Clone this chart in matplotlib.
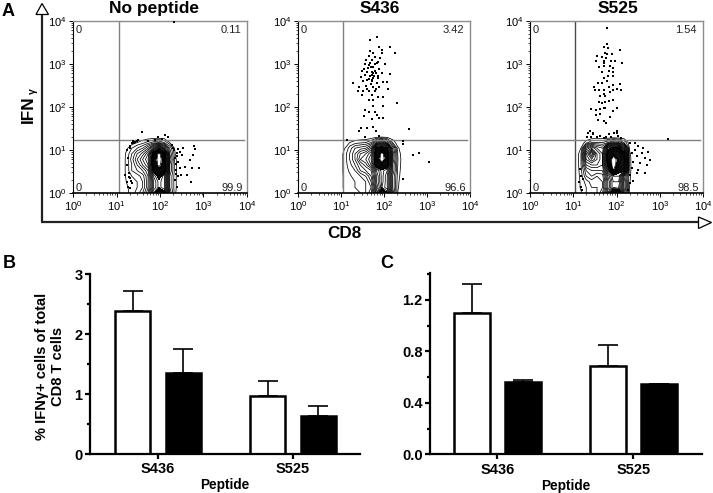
import matplotlib
matplotlib.use('Agg')
import matplotlib.pyplot as plt
from matplotlib.patches import Polygon
from matplotlib.ticker import FixedLocator, NullFormatter
import numpy as np

plt.rcParams['font.family'] = ['Liberation Sans', 'DejaVu Sans']
plt.rcParams['mathtext.fontset'] = 'custom'
plt.rcParams['mathtext.rm'] = 'Liberation Sans'
plt.rcParams['mathtext.default'] = 'regular'

W = 713
H = 493

peptides = ['S436', 'S525']
flow_titles = ['No peptide', 'S436', 'S525']
flow_title_x = [154, 380, 618]
flow_labels = [['0', '0.11', '0', '99.9'], ['0', '3.42', '0', '96.6'], ['0', '1.54', '0', '98.5']]

# panel B, C bars
b_white = [2.39, 0.97]
b_white_err = [0.33, 0.25]
b_black = [1.36, 0.64]
b_black_err = [0.39, 0.155]
c_white = [1.096, 0.687]
c_white_err = [0.226, 0.163]
c_black = [0.565, 0.544]
c_black_err = [0.01, 0.006]

gate_x = [1.05, 1.04, 1.04]
gate_y = 1.24

# density, log10 grid, bottom row first
grid_y = [0, .13, .26, .39, .52, .65, .78, .91, 1.04, 1.17, 1.3]
grid_x1 = [1.1, 1.225, 1.35, 1.475, 1.6, 1.725, 1.85, 1.975, 2.1, 2.225, 2.35, 2.475, 2.6]
density1 = [
    [0, 0.6, 1.5, 2.5, 4, 7, 14, 20, 16, 5, 1.1, 0, 0],
    [0, 0.8, 1.5, 2, 3, 6, 12, 14.5, 13, 4, 1.2, 0, 0],
    [0, 1.0, 1.5, 2, 3, 6, 12, 14.5, 13, 4, 1.2, 0, 0],
    [0, 1.2, 2, 2.5, 3.5, 6, 13, 16, 13, 4, 1.2, 0, 0],
    [0, 1.3, 3, 4, 5, 7, 16, 19, 17, 5, 1.3, 0, 0],
    [0, 1.3, 3, 5, 7, 9, 18, 22, 18, 5, 1.3, 0, 0],
    [0, 1.3, 3.5, 6, 8, 10, 18, 23, 18, 6, 1.2, 0, 0],
    [0, 1.2, 3, 5, 6.5, 9, 17, 22, 17, 5, 1.0, 0, 0],
    [0, 0.7, 2, 3, 4, 6, 10, 14, 9, 4, 0.5, 0, 0],
    [0, 0, 0.3, 1.0, 1.6, 2.5, 3.5, 4, 3, 1.0, 0, 0, 0],
    [0, 0, 0, 0, 0, 0, 0, 0, 0, 0, 0, 0, 0],
]
grid_x2 = [0.95, 1.075, 1.2, 1.325, 1.45, 1.575, 1.7, 1.825, 1.95, 2.075, 2.2, 2.325, 2.45]
density2 = [
    [0, 1.1, 1.6, 1.8, 2, 3, 5, 12, 20, 15, 6, 0.9, 0],
    [0, 1.3, 1.5, 2, 2.5, 3, 4, 10, 14, 12, 5, 1.1, 0],
    [0, 1.3, 1.6, 2, 2.5, 3, 5, 11, 14.5, 12, 5, 1.2, 0],
    [0, 1.3, 1.8, 2.5, 3, 4, 6, 11, 14.5, 12, 5, 1.4, 0],
    [0, 1.4, 2.2, 3, 5, 6, 7, 12, 14.5, 13, 6, 1.6, 0],
    [0, 1.4, 2.6, 4, 6, 7.5, 10, 17, 19, 17, 6, 1.8, 0],
    [0, 1.4, 3, 5, 8, 9, 11, 18, 23, 18, 7, 2, 0],
    [0, 1.4, 3, 5, 7, 8, 10, 18, 22, 18, 7, 1.7, 0],
    [0, 0.8, 2.5, 4, 4.5, 5, 7, 16, 17, 15, 6, 1.2, 0],
    [0, 0, 1.0, 1.5, 1.8, 2, 3, 6, 8, 5, 2, 0, 0],
    [0, 0, 0, 0, 0, 0, 0.2, 0.6, 0.9, 0.6, 0, 0, 0],
]
grid_x3 = [1.05, 1.175, 1.3, 1.425, 1.55, 1.675, 1.8, 1.925, 2.05, 2.175, 2.3, 2.425, 2.55]
density3 = [
    [0, 0.8, 2, 2.5, 3, 5, 11, 19, 18, 7, 0.8, 0, 0],
    [0, 1.2, 2, 3, 3, 4, 9, 13, 12, 6, 1, 0, 0],
    [0, 1.2, 2.5, 3.5, 3.5, 4, 9, 13, 13, 6, 1.1, 0, 0],
    [0, 1.4, 4, 5, 4, 4.5, 10, 14, 14, 7, 1.2, 0, 0],
    [0, 1.6, 5, 6, 6, 6, 13, 21, 16, 15, 1.3, 0, 0],
    [0, 1.8, 7, 8, 8, 7, 16, 23, 18, 17, 1.3, 0, 0],
    [0, 1.8, 9, 11, 9, 7, 17, 23, 19, 17, 1.3, 0, 0],
    [0, 1.8, 10, 14, 9, 7, 17, 19, 19, 16, 1.2, 0, 0],
    [0, 1.0, 7, 9, 7, 6, 14, 16, 16, 10, 0.8, 0, 0],
    [0, 0.3, 1.5, 3, 3, 3, 4, 6, 5, 3, 0.3, 0, 0],
    [0, 0, 0, 0, 0, 0, 0, 0, 0, 0, 0, 0, 0],
]

# single events outside the contours, log10 CD8 / log10 IFNg
dots1 = [(1.59, 1.41), (2.11, 1.35), (2.19, 1.29), (1.96, 1.29), (1.5, 1.23), (1.39, 1.21), (1.31, 1.1), (1.43, 1.19),
         (1.35, 1.16), (1.73, 1.21), (1.89, 1.23), (2.04, 1.26), (2.27, 1.12), (2.33, 1.0), (2.42, 1.02), (2.54, 1.04),
         (2.79, 1.08), (2.8, 1.02), (2.38, .92), (2.5, .88), (2.34, .81), (2.77, .88), (2.69, .77), (2.42, .73),
         (2.57, .61), (2.46, .57), (2.73, .57), (2.36, .53), (2.48, .42), (2.61, .42), (2.34, .3), (2.71, .26),
         (2.38, .15), (1.26, .81), (1.23, .65), (1.2, .42), (1.29, .46), (1.31, .34), (1.23, .26), (1.35, .23),
         (1.26, .15), (1.31, .11), (2.9, .58), (2.32, 3.97), (2.4, .85), (2.45, .95), (2.37, .68), (2.41, .4),
         (1.28, .38), (1.33, .28), (1.25, 1.0), (1.4, 1.15), (1.47, 1.2), (1.3, 1.05), (2.3, 1.05), (2.36, .45)]
dots2 = [(1.84, 3.62), (1.67, 3.56), (1.89, 3.40), (2.14, 3.39), (2.25, 3.26), (1.96, 3.32), (1.95, 3.25), (1.67, 3.29),
         (1.75, 3.26), (1.64, 3.17), (1.79, 3.15), (1.91, 3.13), (1.58, 3.09), (1.71, 3.08), (1.83, 3.01), (2.02, 3.0),
         (1.64, 2.98), (1.75, 2.92), (1.53, 2.88), (1.89, 2.88), (1.48, 2.84), (1.61, 2.82), (1.71, 2.80), (1.81, 2.78),
         (1.95, 2.78), (2.14, 2.77), (1.56, 2.74), (1.46, 2.69), (1.67, 2.71), (1.75, 2.67), (1.87, 2.67), (1.60, 2.63),
         (1.29, 2.55), (1.52, 2.59), (1.71, 2.59), (1.84, 2.55), (1.97, 2.57), (2.08, 2.57), (1.43, 2.47), (1.58, 2.49),
         (1.75, 2.47), (1.89, 2.46), (2.10, 2.41), (1.40, 2.36), (1.52, 2.37), (1.66, 2.36), (1.79, 2.36), (1.48, 2.28),
         (1.71, 2.28), (1.87, 2.24), (1.98, 2.24), (1.64, 2.15), (1.75, 2.16), (2.31, 2.10), (1.75, 2.01), (1.97, 2.01),
         (1.56, 1.93), (1.66, 1.89), (1.79, 1.89), (1.84, 1.81), (1.53, 1.78), (1.71, 1.71), (1.89, 1.74), (1.98, 1.74),
         (1.46, 1.52), (1.60, 1.50), (1.75, 1.54), (1.81, 1.43), (1.43, 1.43), (2.59, 1.49), (1.72, 2.74), (1.76, 2.72),
         (1.78, 2.84), (1.70, 2.92), (1.78, 3.0), (1.68, 3.02), (1.73, 2.62), (1.66, 2.64), (1.62, 2.9), (1.85, 2.72),
         (1.74, 2.78), (1.69, 2.52), (1.81, 2.42), (1.60, 2.42), (1.55, 3.0), (1.86, 3.05), (2.67, 0.88), (2.81, 0.93),
         (3.05, 0.72), (2.44, 1.21), (2.45, 1.14), (2.44, 0.33), (1.55, 1.31), (1.88, 1.32), (1.14, 1.22)]
dots3 = [(1.77, 3.83), (1.79, 3.46), (1.70, 3.38), (1.81, 3.36), (2.08, 3.32), (1.73, 3.26), (1.79, 3.23), (1.89, 3.23),
         (1.56, 3.19), (1.66, 3.15), (1.76, 3.13), (1.53, 3.07), (1.72, 3.07), (1.87, 3.07), (1.96, 3.07), (2.12, 3.01),
         (1.70, 3.01), (1.59, 2.92), (1.72, 2.94), (1.85, 2.94), (1.93, 2.9), (1.83, 2.84), (1.66, 2.8), (1.93, 2.82),
         (1.81, 2.72), (1.71, 2.66), (1.91, 2.72), (1.79, 2.61), (1.58, 2.55), (1.66, 2.55), (2.07, 2.53), (1.91, 2.51),
         (1.48, 2.47), (1.83, 2.45), (2.0, 2.41), (2.11, 2.39), (1.60, 2.39), (1.71, 2.39), (1.93, 2.39), (1.50, 2.38),
         (1.85, 2.35), (1.71, 2.30), (1.63, 2.25), (1.73, 2.25), (1.60, 2.12), (1.66, 2.10), (1.74, 2.12), (1.83, 2.14),
         (1.93, 2.16), (1.70, 1.97), (1.40, 1.94), (1.52, 1.93), (1.63, 1.94), (1.73, 1.97), (2.0, 1.97), (1.91, 1.91),
         (1.52, 1.81), (1.63, 1.83), (1.86, 1.77), (1.58, 1.69), (1.70, 1.68), (1.76, 1.63), (1.33, 1.39), (1.45, 1.37),
         (2.02, 1.40), (1.38, 1.44), (1.46, 1.40), (1.55, 1.30), (1.62, 1.33), (1.7, 1.28), (1.75, 1.31), (1.82, 1.36),
         (1.88, 1.29), (1.94, 1.40), (2.0, 1.45), (2.04, 1.32), (2.1, 1.28), (1.32, 1.3), (1.42, 1.3), (3.19, 1.25),
         (2.31, 1.15), (2.43, 1.15), (2.5, 1.08), (2.62, 1.04), (2.43, 1.0), (2.73, .96), (2.35, .92), (2.58, .92),
         (2.47, .85), (2.66, .81), (2.77, .77), (2.39, .73), (2.54, .69), (2.7, .65), (2.35, .57), (2.5, .53),
         (2.31, .42), (2.47, .46), (2.66, .46), (2.31, .23), (2.39, .27), (2.27, .07), (1.15, .55), (1.17, .4),
         (1.14, .25), (1.18, .15), (1.2, .08), (1.22, .32)]

flow_boxes = [(73, 20.7, 247, 193), (298, 20.7, 470, 193), (530, 20.7, 703, 193)]
grids = [(grid_x1, density1), (grid_x2, density2), (grid_x3, density3)]
dots = [dots1, dots2, dots3]
levels = list(range(1, 22))


def px_axes(fig, left, top, right, bottom):
    return fig.add_axes([left / W, 1 - bottom / H, (right - left) / W, (bottom - top) / H])


fig = plt.figure(figsize=(W / 100, H / 100), dpi=100)

# overlay for the big arrows and panel letters
bg = fig.add_axes([0, 0, 1, 1])
bg.set_xlim(0, W)
bg.set_ylim(H, 0)
bg.axis('off')
bg.plot([41.5, 41.5], [222, 15], color='#222222', lw=1.6, solid_capstyle='butt')
bg.plot([41, 698], [222, 222], color='#222222', lw=1.6, solid_capstyle='butt')
bg.add_patch(Polygon([(42, 3.5), (36, 14.5), (48.5, 14.5)], fc='white', ec='black', lw=0.9))
bg.add_patch(Polygon([(698.5, 217), (711.5, 222.5), (698.5, 228.5)], fc='white', ec='black', lw=0.9))
for letter, x, y in [('A', 8, 11), ('B', 9, 263), ('C', 387, 263)]:
    bg.text(x, y, letter, fontsize=13, fontweight='bold', ha='center', va='center')
bg.text(344, 234, 'CD8', fontsize=12.3, fontweight='bold', ha='center', va='center')
bg.text(28.5, 109, 'IFN', fontsize=12.3, fontweight='bold', rotation=90, ha='center', va='center')
bg.text(33, 91.5, 'γ', fontsize=7.5, fontweight='bold', rotation=90, ha='center', va='center')

for i in range(3):
    ax = px_axes(fig, *flow_boxes[i])
    ax.set_xscale('log')
    ax.set_yscale('log')
    ax.set_xlim(1, 1e4)
    ax.set_ylim(1, 1e4)
    gx, dens = grids[i]
    gx_vals = 10 ** np.array(gx)
    gy_vals = 10 ** np.array(grid_y)
    ax.contourf(gx_vals, gy_vals, np.array(dens), levels=[15, 20], colors='#111111')
    ax.contour(gx_vals, gy_vals, np.array(dens), levels=levels, colors='black', linewidths=0.55)
    pts = np.array(dots[i])
    ax.scatter(10 ** pts[:, 0], 10 ** pts[:, 1], s=1.4, c='black', marker='s', linewidths=0, zorder=3)
    gate_color = '#4a4a4a' if i == 2 else '#808080'
    ax.axvline(10 ** gate_x[i], color=gate_color, lw=1.0)
    ax.plot([1, 10 ** 3.94], [10 ** gate_y, 10 ** gate_y], color='#808080', lw=1.0)
    for side in ['top', 'right']:
        ax.spines[side].set_color('#8c8c8c')
        ax.spines[side].set_linewidth(1.0)
    ax.spines['left'].set_linewidth(0.8)
    ax.spines['bottom'].set_linewidth(1.2)
    minors = [m * 10 ** d for d in range(4) for m in range(2, 10)]
    for axis in [ax.xaxis, ax.yaxis]:
        axis.set_minor_locator(FixedLocator(minors))
        axis.set_minor_formatter(NullFormatter())
    ax.tick_params(which='major', length=3, width=0.7, labelsize=8, pad=1.5)
    ax.tick_params(which='minor', length=1.5, width=0.5)
    q = flow_labels[i]
    ax.text(0.015, 0.945, q[0], transform=ax.transAxes, fontsize=8, va='center', ha='left', color='#222222')
    ax.text(0.965, 0.945, q[1], transform=ax.transAxes, fontsize=8, va='center', ha='right', color='#222222')
    ax.text(0.015, 0.03, q[2], transform=ax.transAxes, fontsize=8, va='center', ha='left', color='#222222')
    ax.text(0.975, 0.03, q[3], transform=ax.transAxes, fontsize=8, va='center', ha='right', color='#222222')
    bg.text(flow_title_x[i], 8.5, flow_titles[i], fontsize=12.5, fontweight='bold', ha='center', va='center')


def bars(ax, white, white_err, black, black_err):
    centers = np.array([0, 1])
    off = 0.187
    for vals, errs, xs, color in [(white, white_err, centers - off, 'white'), (black, black_err, centers + off, 'black')]:
        ax.errorbar(xs, vals, yerr=[np.zeros(2), errs], fmt='none', ecolor='black', elinewidth=1.2,
                    capsize=7, capthick=1.2, zorder=1)
        ax.bar(xs, vals, width=0.26, color=color, edgecolor='black', linewidth=1.8, zorder=2)
    ax.set_xticks(centers)
    ax.set_xticklabels(peptides, fontsize=10.5, fontweight='bold')
    ax.set_xlabel('Peptide', fontsize=9.8, fontweight='bold', labelpad=1.5)
    for side in ['top', 'right']:
        ax.spines[side].set_visible(False)
    for side in ['left', 'bottom']:
        ax.spines[side].set_linewidth(1.6)
    ax.tick_params(which='major', length=3.5, width=1.6, labelsize=10.5, pad=2)
    ax.tick_params(axis='y', which='minor', length=2.5, width=1.6)
    ax.tick_params(axis='x', length=3.5, width=1.6, pad=2.5)
    for lab in ax.get_yticklabels():
        lab.set_fontweight('bold')


# panel B
ax_b = px_axes(fig, 90, 274.3, 360, 454)
ax_b.set_xlim(-0.504, 1.496)
ax_b.set_ylim(0, 3)
ax_b.set_yticks([0, 1, 2, 3])
ax_b.set_yticks([0.5, 1.5, 2.5], minor=True)
bars(ax_b, b_white, b_white_err, b_black, b_black_err)
ax_b.set_ylabel('% IFNγ+ cells of total\nCD8 T cells', fontsize=10.5, fontweight='bold', labelpad=6.5, linespacing=1.2, y=0.49)

# panel C
ax_c = px_axes(fig, 430.3, 273.3, 702, 454.3)
ax_c.set_xlim(-0.493, 1.504)
ax_c.set_ylim(0, 1.407)
ax_c.set_yticks([0, 0.4, 0.8, 1.2])
ax_c.set_yticklabels(['0.0', '0.4', '0.8', '1.2'])
ax_c.set_yticks([0.2, 0.6, 1.0, 1.4], minor=True)
bars(ax_c, c_white, c_white_err, c_black, c_black_err)

fig.savefig('out.png', dpi=100)
